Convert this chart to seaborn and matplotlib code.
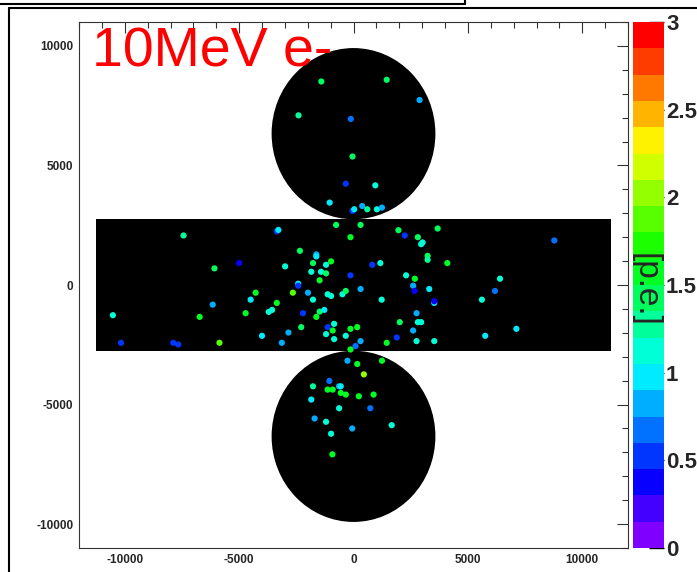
import colorsys
import matplotlib
matplotlib.use("Agg")
import matplotlib.pyplot as plt
import matplotlib.colors as mcolors
from matplotlib.patches import Circle, Rectangle
from matplotlib.lines import Line2D
from matplotlib.ticker import MultipleLocator, FormatStrFormatter
import seaborn as sns
import numpy as np
import pandas as pd

# detector geometry (unrolled cylinder: barrel + two end caps)
radius = 3580
half_height = 2750
half_width = np.pi * radius

# hits on the barrel
barrel_x = [-7429, -3354, -3284, -4998, -6079, -4277, -4497, -3354, -6154, -10519,
            -6725, -4716, -3705, -3560, -4000, -10167, -7881, -7662, -5859, -3134,
            -760, 308, -132, 1965, 2242, 2813, 3020, 2958, 3679, -2343,
            -1626, -1626, -980, -1771, -1200, -2989, -1846, -1420, -1200, -1481,
            822, 1174, 3240, 3240, 4101, -132, 2299, 2681, -2418, -2418,
            -2651, -1991, -1130, -980, -484, -338, 308, -1771, -2211, -1481,
            -1626, -1275, 1231, 2607, 2668, 3310, 3530, 3530, 2756, 2022,
            2813, 2958, -848, -2286, -1130, -910, -132, 163, -1200, -338,
            2607, -2844, -848, 308, 88, 1451, 1890, 2756, 3530, -132,
            8778, 6404, 6185, 5613, 7121, 5758]
barrel_y = [2071, 2238, 2304, 917, 696, -321, -613, -750, -821, -1263,
            -1333, -1179, -1125, -1042, -2125, -2417, -2417, -2488, -2417, -2417,
            2513, 2513, 2000, 2292, 2071, 2000, 1779, 1708, 2363, 1429,
            1279, 1196, 988, 917, 846, 779, 554, 554, 488, 196,
            846, 917, 1221, 1054, 917, 404, 404, 263, 54, -29,
            -321, -321, -388, -458, -388, -250, -167, -613, -1179, -1113,
            -1333, -1042, -613, -29, -250, -167, -750, -679, -1179, -1554,
            -1554, -1554, -1625, -1763, -1763, -1904, -1833, -1763, -2054, -2125,
            -1904, -1988, -2263, -2346, -2554, -2417, -2196, -2346, -2346, -2696,
            1863, 263, -250, -613, -1833, -2125]
barrel_pe = [1.25, 0.6, 0.95, 0.4, 1.35, 1.5, 1.0, 1.6, 0.8, 1.2,
             1.6, 1.5, 1.05, 1.05, 1.0, 0.45, 0.45, 0.5, 1.85, 0.8,
             1.4, 1.4, 1.5, 1.4, 0.5, 1.35, 1.2, 1.05, 1.4, 1.4,
             0.85, 0.95, 1.55, 1.35, 1.15, 1.2, 1.05, 1.2, 1.35, 1.5,
             0.6, 1.2, 1.35, 1.3, 1.6, 0.45, 1.2, 1.5, 1.0, 0.5,
             1.9, 0.8, 1.15, 1.1, 1.2, 1.45, 0.8, 1.2, 0.45, 1.45,
             1.6, 1.0, 1.2, 0.8, 0.35, 1.0, 1.0, 0.4, 0.8, 1.4,
             1.15, 1.15, 1.15, 1.35, 0.6, 1.6, 1.55, 1.5, 1.2, 1.2,
             0.75, 0.8, 1.1, 0.8, 0.65, 1.65, 0.45, 1.2, 1.05, 1.6,
             0.65, 1.2, 0.65, 1.2, 1.0, 1.0]

# hits on the top cap
top_x = [-1407, 1451, 2888, -2404, -119, -44, -338, 954, -1042, 382, -44, 31, 602, 1024, 1244]
top_y = [8513, 8583, 7738, 7096, 6946, 5375, 4238, 4167, 3446, 3304, 3096, 3167, 3167, 3167, 3238]
top_pe = [1.4, 1.4, 0.75, 1.25, 0.7, 1.45, 0.5, 1.15, 1.0, 0.75, 0.5, 1.0, 1.3, 1.05, 0.8]

# hits on the bottom cap
bottom_x = [-264, 163, 1244, 453, -1771, -1055, -1130, -910, -629, -558, -558, -338,
            233, 879, -1846, -629, 734, -1701, -1200, 1670, -57, -980, -923]
bottom_y = [-3167, -3304, -3167, -3738, -4238, -4013, -4375, -4375, -4238, -4238, -4513, -4583,
            -4654, -4583, -4792, -5154, -5154, -5583, -5721, -5863, -6000, -6221, -7083]
bottom_pe = [0.75, 1.55, 1.6, 1.95, 1.25, 0.65, 1.55, 1.55, 0.85, 0.9, 1.6, 1.55,
             1.55, 1.5, 1.0, 1.2, 0.7, 0.8, 1.15, 1.2, 0.8, 1.05, 1.55]

df = pd.DataFrame({
    "x": barrel_x + top_x + bottom_x,
    "y": barrel_y + top_y + bottom_y,
    "pe": barrel_pe + top_pe + bottom_pe,
})

# ROOT-like rainbow palette, 20 contour levels (violet -> red)
n_levels = 20
cmap = mcolors.ListedColormap(
    [colorsys.hsv_to_rgb(270 * (1 - i / (n_levels - 1)) / 360, 1, 1) for i in range(n_levels)])
vmin, vmax = 0, 3

sns.set_theme(style="white")
plt.rcParams["font.family"] = ["Liberation Sans", "DejaVu Sans"]
plt.rcParams["axes.unicode_minus"] = False

W, H = 697, 572
fig = plt.figure(figsize=(W / 100, H / 100), dpi=100)
ax = fig.add_axes([79 / W, 24 / H, 549 / W, 526 / H])
cax = fig.add_axes([633 / W, 24 / H, 31 / W, 526 / H])

ax.add_patch(Rectangle((-half_width, -half_height), 2 * half_width, 2 * half_height,
                       facecolor="black", edgecolor="none", zorder=1))
ax.add_patch(Circle((0, half_height + radius), radius, facecolor="black", edgecolor="none", zorder=1))
ax.add_patch(Circle((0, -half_height - radius), radius, facecolor="black", edgecolor="none", zorder=1))

sns.scatterplot(data=df, x="x", y="y", hue="pe", palette=cmap, hue_norm=(vmin, vmax),
                s=20, linewidth=0, legend=False, ax=ax, zorder=3)

ax.set_xlim(-12000, 12000)
ax.set_ylim(-11000, 11000)
ax.set_xlabel("")
ax.set_ylabel("")
ax.xaxis.set_major_locator(MultipleLocator(5000))
ax.xaxis.set_minor_locator(MultipleLocator(1000))
ax.yaxis.set_major_locator(MultipleLocator(5000))
ax.yaxis.set_minor_locator(MultipleLocator(1000))
ax.tick_params(which="both", direction="in", top=True, right=True, color="#333333", width=0.8)
ax.tick_params(which="major", length=8, labelsize=8.5, pad=4)
ax.tick_params(which="minor", length=4)
for lab in ax.get_xticklabels() + ax.get_yticklabels():
    lab.set_fontweight("bold")
for sp in ax.spines.values():
    sp.set_color("#333333")
    sp.set_linewidth(0.8)

sm = plt.cm.ScalarMappable(norm=mcolors.Normalize(vmin, vmax), cmap=cmap)
cb = fig.colorbar(sm, cax=cax, ticks=np.arange(0, 3.01, 0.5), format=FormatStrFormatter("%g"))
cb.outline.set_visible(False)
cax.tick_params(direction="in", length=11, width=1, color="black", pad=1.5, labelsize=16)
for lab in cax.get_yticklabels():
    lab.set_fontweight("bold")

fig.text(645 / W, 1 - 290 / H, "[p.e.]", rotation=270, fontsize=24, ha="center", va="center")
fig.text(92 / W, 1 - 67 / H, "10MeV e-", color="red", fontsize=40, ha="left", va="baseline")

# pad frame and title box edge
fig.add_artist(Line2D([0, 465 / W], [1 - 4 / H] * 2, color="black", lw=1.5, transform=fig.transFigure))
fig.add_artist(Line2D([465 / W] * 2, [1 - 4 / H, 1], color="black", lw=1.5, transform=fig.transFigure))
fig.add_artist(Line2D([9 / W, 1], [1 - 8 / H] * 2, color="black", lw=1.5, transform=fig.transFigure))
fig.add_artist(Line2D([9 / W] * 2, [0, 1 - 8 / H], color="black", lw=1.5, transform=fig.transFigure))

fig.savefig("out.png", dpi=100)
